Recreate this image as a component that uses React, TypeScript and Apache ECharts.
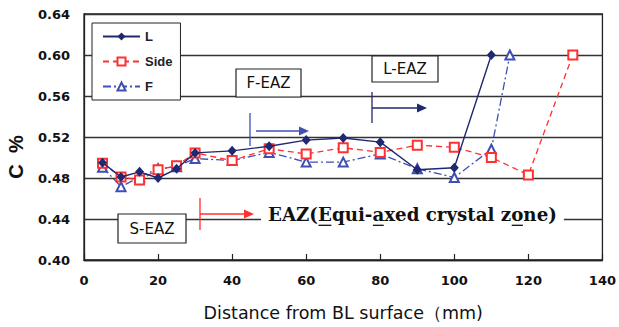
import React, { useEffect, useRef } from "react";
import * as echarts from "echarts";

const seriesNames = ["L", "Side", "F"];
const xL = [5, 10, 15, 20, 25, 30, 40, 50, 60, 70, 80, 90, 100, 110];
const yL = [0.495, 0.481, 0.486, 0.48, 0.489, 0.5045, 0.5065, 0.511, 0.517, 0.519, 0.515, 0.488, 0.49, 0.6];
const xSide = [5, 10, 15, 20, 25, 30, 40, 50, 60, 70, 80, 90, 100, 110, 120, 132];
const ySide = [0.4945, 0.481, 0.478, 0.488, 0.492, 0.5045, 0.497, 0.5085, 0.5035, 0.5095, 0.505, 0.512, 0.51, 0.5, 0.483, 0.6];
const xF = [5, 10, 15, 20, 25, 30, 40, 50, 60, 70, 80, 90, 100, 110, 115];
const yF = [0.4905, 0.4715, 0.481, 0.489, 0.491, 0.499, 0.497, 0.505, 0.4955, 0.4955, 0.5035, 0.489, 0.4805, 0.508, 0.6];
const xTicks = { min: 0, max: 140, interval: 20 };
const yTicks = { min: 0.4, max: 0.64, interval: 0.04 };

const eazText = "EAZ(Equi-axed crystal zone)";
const underlined = [4, 9, 23];

const pair = (xs: number[], ys: number[]) => xs.map((x, i) => [x, ys[i]]);

export default function App() {
  const ref = useRef<HTMLDivElement>(null);
  useEffect(() => {
    document.body.style.margin = "0";
    if (!ref.current) return;
    const chart = echarts.init(ref.current, null, { renderer: "svg" });

    const serif = '"DejaVu Serif"';
    const cv = document.createElement("canvas").getContext("2d")!;
    cv.font = `bold 20px ${serif}`;
    const w20 = cv.measureText(eazText).width;
    let fs = (20 * 289) / w20;
    fs = Math.max(14, Math.min(22, fs));
    cv.font = `bold ${fs}px ${serif}`;
    const textLeft = 268;
    const textY = 214;
    const uls = underlined.map((idx) => {
      const x1 = textLeft + cv.measureText(eazText.slice(0, idx)).width;
      const x2 = textLeft + cv.measureText(eazText.slice(0, idx + 1)).width;
      return {
        type: "line",
        z: 110,
        shape: { x1: x1 + 0.5, y1: textY + fs * 0.62, x2: x2 - 0.5, y2: textY + fs * 0.62 },
        style: { stroke: "#111", lineWidth: 1.3 },
      };
    });
    const textW = cv.measureText(eazText).width;

    const navy = "#1f2870";
    const red = "#ff3030";
    const blue = "#3f4fb3";
    const boxFont = '"DejaVu Sans"';

    const box = (x: number, y: number, w: number, h: number, t: string) => [
      {
        type: "rect",
        z: 100,
        shape: { x, y, width: w, height: h },
        style: { fill: "#fff", stroke: "#222", lineWidth: 1.2 },
      },
      {
        type: "text",
        z: 101,
        x: x + w / 2,
        y: y + h / 2,
        style: {
          text: t,
          fill: "#111",
          font: `15px ${boxFont}`,
          align: "center",
          verticalAlign: "middle",
        },
      },
    ];

    const arrow = (x: number, yTop: number, yBot: number, xEnd: number, yA: number, color: string, xStart: number) => [
      { type: "line", z: 100, shape: { x1: x, y1: yTop, x2: x, y2: yBot }, style: { stroke: color, lineWidth: 1.3 } },
      { type: "line", z: 100, shape: { x1: xStart, y1: yA, x2: xEnd - 8, y2: yA }, style: { stroke: color, lineWidth: 1.3 } },
      {
        type: "polygon",
        z: 100,
        shape: { points: [[xEnd - 10, yA - 4.5], [xEnd, yA], [xEnd - 10, yA + 4.5]] },
        style: { fill: color },
      },
    ];

    chart.setOption({
      animation: false,
      backgroundColor: "#fff",
      grid: {
        left: 84,
        right: 15,
        top: 14,
        bottom: 65,
        show: true,
        borderColor: "#222",
        borderWidth: 1.3,
        containLabel: false,
      },
      legend: {
        data: seriesNames,
        orient: "vertical",
        left: 92,
        top: 23,
        backgroundColor: "#fff",
        borderColor: "#222",
        borderWidth: 1,
        padding: [7, 8, 7, 10],
        itemGap: 12,
        itemWidth: 37,
        itemHeight: 10,
        textStyle: { fontFamily: "Liberation Sans", fontWeight: "bold", fontSize: 13, color: "#222" },
        z: 50,
      },
      xAxis: {
        type: "value",
        min: xTicks.min,
        max: xTicks.max,
        interval: xTicks.interval,
        axisLine: { show: true, lineStyle: { color: "#222", width: 1.3 } },
        axisTick: { show: true, inside: true, length: 6, lineStyle: { color: "#222", width: 1.2 } },
        splitLine: { show: false },
        axisLabel: { margin: 14, fontFamily: "DejaVu Sans", fontWeight: "bold", fontSize: 13, color: "#111" },
        name: "Distance from BL surface（mm)",
        nameLocation: "middle",
        nameGap: 44,
        nameTextStyle: { fontFamily: "DejaVu Sans", fontSize: 17.5, color: "#111" },
      },
      yAxis: {
        type: "value",
        min: yTicks.min,
        max: yTicks.max,
        interval: yTicks.interval,
        axisLine: { show: true, lineStyle: { color: "#222", width: 1.3 } },
        axisTick: { show: false },
        splitLine: { show: true, lineStyle: { color: "#333", width: 1.4 } },
        axisLabel: {
          margin: 14,
          fontFamily: "DejaVu Sans",
          fontWeight: "bold",
          fontSize: 13,
          color: "#111",
          formatter: (v: number) => v.toFixed(2),
        },
      },
      series: [
        {
          name: "L",
          type: "line",
          data: pair(xL, yL),
          symbol: "diamond",
          symbolSize: [9, 10],
          itemStyle: { color: navy },
          lineStyle: { color: navy, width: 1.4 },
          z: 5,
        },
        {
          name: "Side",
          type: "line",
          data: pair(xSide, ySide),
          symbol: "emptyRect",
          symbolSize: 9,
          itemStyle: { color: red, borderWidth: 1.2 },
          lineStyle: { color: red, width: 1.3, type: [6, 4] },
          z: 4,
        },
        {
          name: "F",
          type: "line",
          data: pair(xF, yF),
          symbol: "emptyTriangle",
          symbolSize: 9,
          itemStyle: { color: blue, borderWidth: 1.2 },
          lineStyle: { color: blue, width: 1.3, type: [8, 3, 2, 3] },
          z: 3,
        },
      ],
      graphic: [
        {
          type: "text",
          z: 100,
          x: 16,
          y: 157,
          rotation: Math.PI / 2,
          style: {
            text: "C  %",
            fill: "#111",
            font: 'bold 20px "Liberation Sans"',
            align: "center",
            verticalAlign: "middle",
          },
        },
        ...box(236, 69, 65, 28, "F-EAZ"),
        ...box(372, 56, 66, 26, "L-EAZ"),
        ...box(118, 214, 68, 29, "S-EAZ"),
        ...arrow(250, 113, 146, 309, 131, blue, 256),
        ...arrow(372, 92, 123, 427, 108, navy, 372),
        ...arrow(200, 198, 230, 254, 214, red, 200),
        {
          type: "rect",
          z: 99,
          shape: { x: textLeft - 7, y: 203, width: textW + 14, height: 27 },
          style: { fill: "#fff" },
        },
        {
          type: "text",
          z: 105,
          x: textLeft,
          y: textY,
          style: {
            text: eazText,
            fill: "#111",
            font: `bold ${fs}px ${serif}`,
            align: "left",
            verticalAlign: "middle",
          },
        },
        ...uls,
      ],
    });
    return () => chart.dispose();
  }, []);
  return <div ref={ref} style={{ width: 619, height: 327 }} />;
}
